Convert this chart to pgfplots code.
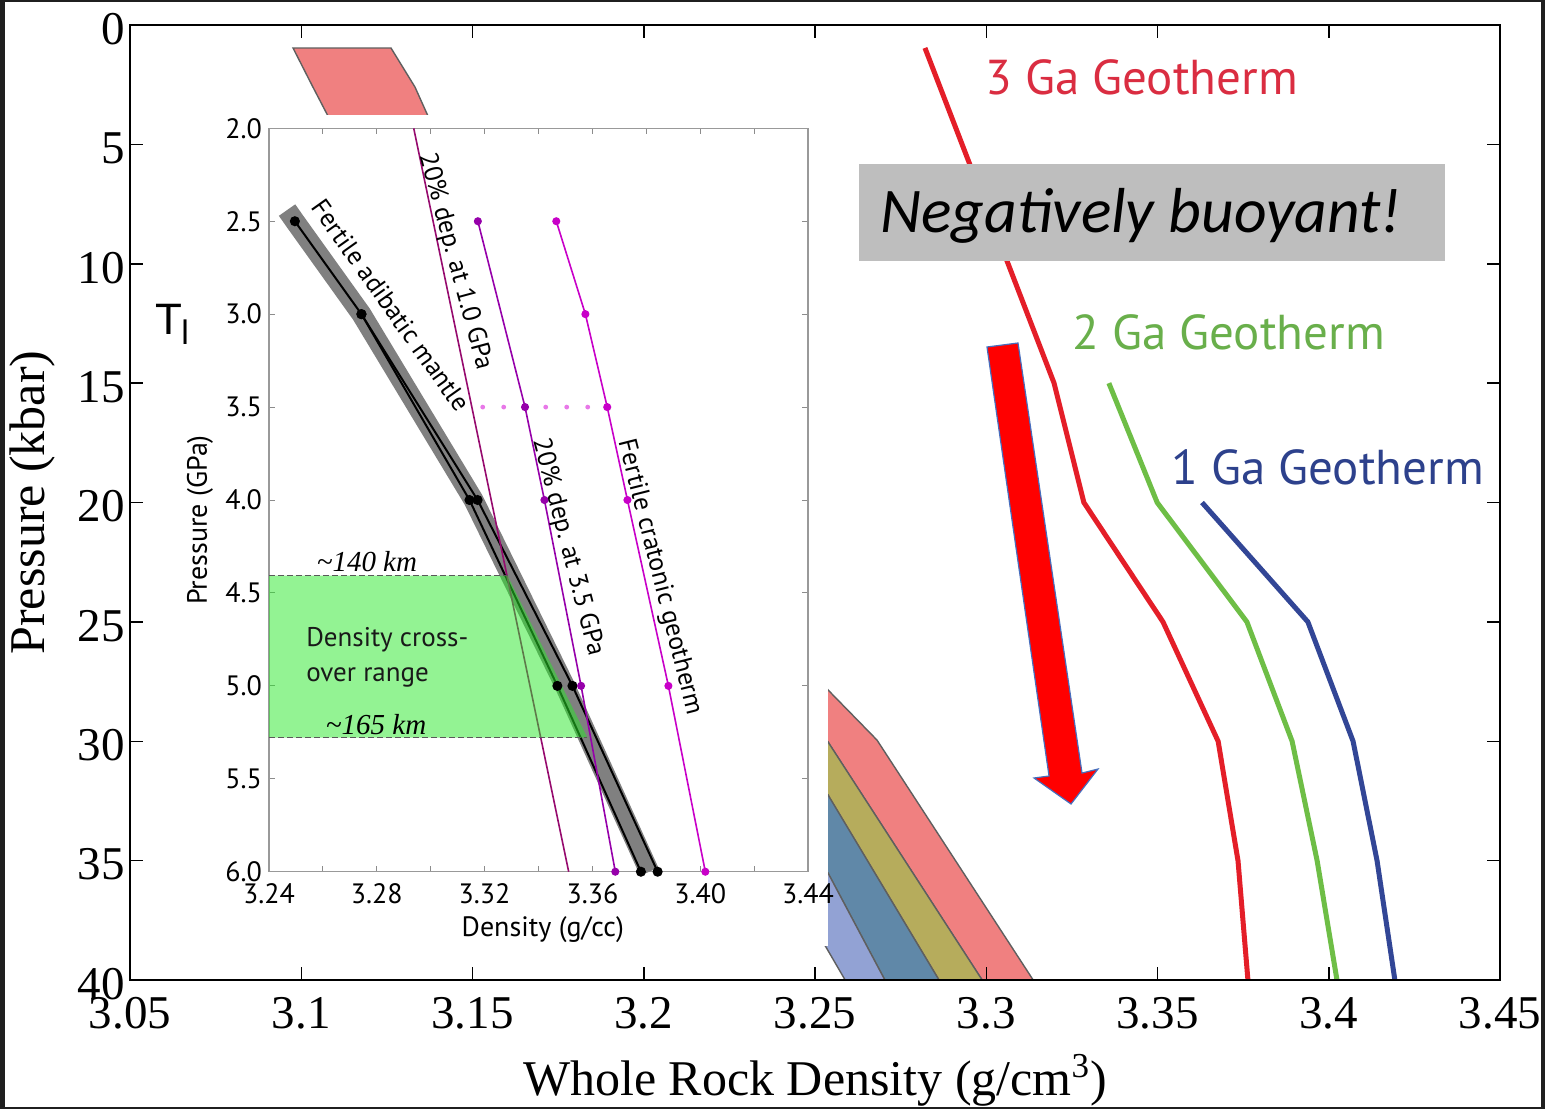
\documentclass[border=0pt]{standalone}
\usepackage{pgfplots}
\pgfplotsset{compat=1.18}
\usepackage{fontspec}
\setmainfont{Liberation Serif}
\newfontfamily\insetfont{PT Sans}
\newfontfamily\calfont{Carlito}
\newfontfamily\arialfont{Liberation Sans}

\definecolor{geored}{RGB}{228,30,40}
\definecolor{geogreen}{RGB}{110,190,70}
\definecolor{geoblue}{RGB}{50,70,150}
\definecolor{redtxt}{RGB}{218,45,65}
\definecolor{greentxt}{RGB}{105,175,75}
\definecolor{bluetxt}{RGB}{45,65,140}
\definecolor{bandpink}{RGB}{240,128,128}
\definecolor{bandolive}{RGB}{182,172,92}
\definecolor{bandteal}{RGB}{96,136,168}
\definecolor{bandblue}{RGB}{146,162,212}
\definecolor{bandline}{RGB}{95,95,95}
\definecolor{boxgray}{RGB}{190,190,190}
\definecolor{arrowblue}{RGB}{70,110,190}
\definecolor{depone}{RGB}{150,10,110}
\definecolor{depthree}{RGB}{150,0,170}
\definecolor{crat}{RGB}{200,0,200}
\definecolor{dotc}{RGB}{232,120,232}
\definecolor{crossgreen}{RGB}{40,232,40}

\begin{document}
\begin{tikzpicture}
\useasboundingbox (0,0) rectangle (772.5pt,554.5pt);
\fill[black!88] (0,0) rectangle (772.5pt,554.5pt);
\fill[white] (2.5pt,1pt) rectangle (770.5pt,553.5pt);

% ---------------- main axis ----------------
\begin{axis}[
  at={(65pt,64.5pt)}, anchor=south west,
  scale only axis, width=685pt, height=477.5pt,
  xmin=3.05, xmax=3.45, ymin=0, ymax=40, y dir=reverse,
  xtick={3.05,3.1,3.15,3.2,3.25,3.3,3.35,3.4,3.45},
  xticklabels={3.05,3.1,3.15,3.2,3.25,3.3,3.35,3.4,3.45},
  ytick={0,5,10,15,20,25,30,35,40},
  yticklabels={0,5,10,15,20,25,30,35,40},
  tick align=inside, major tick length=6.5pt,
  tick style={black, line width=0.75pt},
  axis line style={line width=1pt},
  axis on top,
  xticklabel style={font=\fontsize{23.5}{24}\selectfont, yshift=-5pt},
  yticklabel style={font=\fontsize{23.5}{24}\selectfont, xshift=1pt, yshift=-2pt},
  xlabel={Whole Rock Density (g/cm\textsuperscript{3})},
  ylabel={Pressure (kbar)},
  xlabel style={at={(axis description cs:0.5,-0.105)}, anchor=center, font=\fontsize{25}{26}\selectfont},
  ylabel style={at={(axis description cs:-0.0715,0.5)}, anchor=center, font=\fontsize{25}{26}\selectfont},
  clip=true,
]
% density bands
\addplot[fill=bandpink, draw=bandline, line width=0.7pt] coordinates {
 (3.0976,0.963) (3.1262,0.963) (3.1332,2.597) (3.1370,3.812) (3.2538,27.85)
 (3.2681,29.95) (3.3137,40) (3.2988,40) (3.2538,30.03) (3.1078,3.81) (3.1034,2.597)} -- cycle;
\addplot[fill=bandolive, draw=bandline, line width=0.7pt] coordinates {
 (3.2538,30.03) (3.2988,40) (3.2862,40) (3.2538,32.25) (3.2339,28.5) (3.2339,26.2)} -- cycle;
\addplot[fill=bandteal, draw=bandline, line width=0.7pt] coordinates {
 (3.2538,32.25) (3.2862,40) (3.2704,40) (3.2538,35.52) (3.2339,32.5) (3.2339,28.5)} -- cycle;
\addplot[fill=bandblue, draw=bandline, line width=0.7pt] coordinates {
 (3.2538,35.52) (3.2704,40) (3.2588,40) (3.2532,38.62) (3.2427,36.2) (3.2339,32.5)} -- cycle;
% geotherms
\addplot[geored, line width=2.5pt] coordinates {
 (3.2821,0.96) (3.3198,15) (3.3285,20) (3.3516,25) (3.3677,30) (3.3735,35) (3.3764,40)};
\addplot[geogreen, line width=2.5pt] coordinates {
 (3.3358,15) (3.3499,20) (3.3761,25) (3.3893,30) (3.3966,35) (3.4024,40)};
\addplot[geoblue, line width=2.5pt] coordinates {
 (3.3630,20) (3.3939,25) (3.4071,30) (3.4141,35) (3.4193,40)};
\end{axis}

% white panel behind the inset
\begin{scope}[x=0.5pt,y=-0.5pt,yshift=554.5pt]
\fill[white] (146,115) rectangle (828,946);
\end{scope}

% ---------------- inset axis ----------------
\begin{axis}[
  at={(134.5pt,118.65pt)}, anchor=south west,
  scale only axis, width=269.5pt, height=371.7pt,
  xmin=3.24, xmax=3.44, ymin=2, ymax=6, y dir=reverse,
  xtick={3.24,3.28,3.32,3.36,3.40,3.44},
  xticklabels={3.24,3.28,3.32,3.36,3.40,3.44},
  minor xtick={3.26,3.30,3.34,3.38,3.42},
  ytick={2,2.5,3,3.5,4,4.5,5,5.5,6},
  yticklabels={2.0,2.5,3.0,3.5,4.0,4.5,5.0,5.5,6.0},
  tick align=inside, major tick length=3pt, minor tick length=3pt,
  tick style={black!45, line width=0.5pt},
  axis line style={black!40, line width=0.75pt},
  xticklabel style={font=\insetfont\fontsize{14}{14}\selectfont, yshift=-2.5pt},
  yticklabel style={font=\insetfont\fontsize{14}{14}\selectfont},
  xlabel={Density (g/cc)}, ylabel={Pressure (GPa)},
  xlabel style={at={(axis description cs:0.508,-0.078)}, anchor=center, font=\insetfont\fontsize{14}{14}\selectfont},
  ylabel style={at={(axis description cs:-0.128,0.473)}, anchor=center, font=\insetfont\fontsize{14}{14}\selectfont},
  clip=false,
]
\addplot[black!50, line width=10pt, line join=round] coordinates {
 (3.2467,2.44) (3.2496,2.5) (3.2743,3.0) (3.3159,4.0) (3.3498,5.0) (3.3811,6.0)};
\addplot[black, line width=1pt, mark=*, mark size=2pt] coordinates {
 (3.2496,2.5) (3.2743,3.0) (3.3144,4.0) (3.3470,5.0) (3.3780,6.0)};
\addplot[black, line width=1pt, mark=*, mark size=2pt] coordinates {
 (3.2743,3.0) (3.3174,4.0) (3.3526,5.0) (3.3842,6.0)};
\addplot[depone, line width=0.8pt] coordinates {(3.2937,2.0) (3.3512,6.0)};
\addplot[depthree, line width=0.8pt, mark=*, mark size=1.6pt] coordinates {
 (3.3175,2.5) (3.3350,3.5) (3.3422,4.0) (3.3558,5.0) (3.3685,6.0)};
\addplot[crat, line width=0.8pt, mark=*, mark size=1.6pt] coordinates {
 (3.3466,2.5) (3.3574,3.0) (3.3655,3.5) (3.3730,4.0) (3.3882,5.0) (3.4019,6.0)};
\addplot[dotc, line width=2.4pt, line cap=round, dash pattern=on 0pt off 10.5pt] coordinates {
 (3.3193,3.5) (3.3655,3.5)};
\addplot[fill=crossgreen, fill opacity=0.5, draw=none] coordinates {
 (3.24,4.407) (3.3285,4.407) (3.3581,5.278) (3.24,5.278)} -- cycle;
\addplot[black!65, line width=0.6pt, dash pattern=on 3pt off 1.5pt] coordinates {(3.24,4.407) (3.3285,4.407)};
\addplot[black!65, line width=0.6pt, dash pattern=on 3pt off 1.5pt] coordinates {(3.24,5.278) (3.3581,5.278)};

\node[anchor=base west, inner sep=0, font=\itshape\fontsize{14.5}{15}\selectfont] at (axis cs:3.2576,4.3855) {\textasciitilde 140 km};
\node[anchor=base west, inner sep=0, font=\itshape\fontsize{14.5}{15}\selectfont] at (axis cs:3.2610,5.2613) {\textasciitilde 165 km};
\node[anchor=base west, inner sep=0, text=black!90, font=\insetfont\fontsize{13.5}{14}\selectfont] at (axis cs:3.2537,4.789) {Density cross-};
\node[anchor=base west, inner sep=0, text=black!90, font=\insetfont\fontsize{13.5}{14}\selectfont] at (axis cs:3.2537,4.977) {over range};

\node[rotate=-54.6, inner sep=0, font=\insetfont\fontsize{13}{13}\selectfont] at (axis cs:3.2853,2.953) {Fertile adibatic mantle};
\node[rotate=-74.9, inner sep=0, font=\insetfont\fontsize{13}{13}\selectfont] at (axis cs:3.3090,2.717) {20\% dep. at 1.0 GPa};
\node[rotate=-75.4, inner sep=0, font=\insetfont\fontsize{13}{13}\selectfont] at (axis cs:3.3508,4.254) {20\% dep. at 3.5 GPa};
\node[rotate=-75.8, inner sep=0, font=\insetfont\fontsize{13}{13}\selectfont] at (axis cs:3.3848,4.416) {Fertile cratonic geotherm};
\end{axis}

% ---------------- annotations (pixel coordinates) ----------------
\begin{scope}[x=0.5pt,y=-0.5pt,yshift=554.5pt]
\node[anchor=base west, inner sep=0, text=redtxt, font=\insetfont\fontsize{24.5}{25}\selectfont] at (985,95) {3 Ga Geotherm};
\node[anchor=base west, inner sep=0, text=greentxt, font=\insetfont\fontsize{24.5}{25}\selectfont] at (1072,350) {2 Ga Geotherm};
\node[anchor=base west, inner sep=0, text=bluetxt, font=\insetfont\fontsize{24.5}{25}\selectfont] at (1171,485) {1 Ga Geotherm};
\fill[boxgray] (859,164) rectangle (1445,261);
\node[anchor=base west, inner sep=0, font=\calfont\itshape\fontsize{31.8}{32}\selectfont] at (880,233) {Negatively buoyant!};
\filldraw[fill=red, draw=arrowblue, line width=0.6pt, line join=miter]
  (987,347) -- (1018,343) -- (1082,773) -- (1098,769) -- (1071,804) -- (1034,778) -- (1049,776) -- cycle;
\node[anchor=base west, inner sep=0, font=\arialfont\fontsize{22}{22}\selectfont] at (155,335) {T};
\node[anchor=base west, inner sep=0, font=\arialfont\fontsize{17}{17}\selectfont] at (181,345) {l};
\end{scope}
\end{tikzpicture}
\end{document}
